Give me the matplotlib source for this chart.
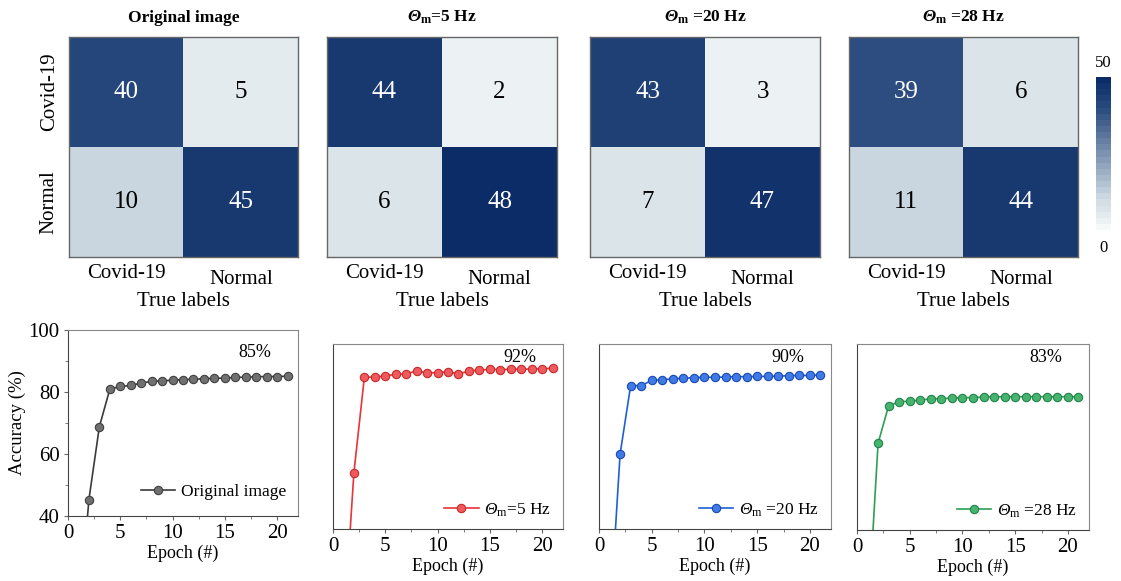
import numpy as np
import matplotlib
matplotlib.use("Agg")
import matplotlib.pyplot as plt
from matplotlib.colors import LinearSegmentedColormap
from matplotlib.ticker import MultipleLocator

plt.rcParams['font.family'] = ['Liberation Serif', 'DejaVu Serif']
plt.rcParams['mathtext.fontset'] = 'custom'
plt.rcParams['mathtext.rm'] = 'Liberation Serif'
plt.rcParams['mathtext.it'] = 'Liberation Serif:italic'
plt.rcParams['mathtext.sf'] = 'Liberation Serif:italic'
plt.rcParams['mathtext.bf'] = 'Liberation Serif:bold:italic'
plt.rcParams['mathtext.tt'] = 'Liberation Serif:bold'

# ---------------- data ----------------
class_labels = ["Covid-19", "Normal"]
cm_titles = ["Original image", r"$\mathbf{\Theta}_{\mathtt{m}}$=5 Hz",
             r"$\mathbf{\Theta}_{\mathtt{m}}$ =20 Hz", r"$\mathbf{\Theta}_{\mathtt{m}}$ =28 Hz"]
cm_original = [[40, 5], [10, 45]]
cm_5hz = [[44, 2], [6, 48]]
cm_20hz = [[43, 3], [7, 47]]
cm_28hz = [[39, 6], [11, 44]]

epochs = list(range(1, 22))
acc_original = [5, 45.3, 68.8, 80.9, 81.8, 82.1, 82.9, 83.4, 83.6, 83.8, 84.0, 84.1,
                84.3, 84.4, 84.5, 84.7, 84.8, 84.9, 85.0, 85.0, 85.1]
acc_5hz = [6, 58.3, 89.2, 89.3, 89.6, 90.2, 90.3, 91.3, 90.6, 90.7, 91.0, 90.3,
           91.2, 91.5, 91.8, 91.7, 91.8, 91.8, 91.9, 92.0, 92.1]
acc_20hz = [9, 64.3, 86.5, 86.5, 88.2, 88.4, 88.7, 88.9, 89.1, 89.2, 89.2, 89.3,
            89.4, 89.4, 89.5, 89.5, 89.6, 89.7, 89.8, 89.8, 90.0]
acc_28hz = [10, 68.0, 80.1, 81.3, 81.6, 81.9, 82.3, 82.4, 82.5, 82.7, 82.7, 82.9,
            82.9, 83.0, 83.0, 83.0, 83.0, 83.0, 83.0, 83.0, 83.0]
legend_labels = ["Original image", r"$\mathsf{\Theta}_{\mathrm{m}}$=5 Hz",
                 r"$\mathsf{\Theta}_{\mathrm{m}}$ =20 Hz", r"$\mathsf{\Theta}_{\mathrm{m}}$ =28 Hz"]
final_acc = ["85%", "92%", "90%", "83%"]

# ---------------- figure ----------------
W, H = 1121, 581
fig = plt.figure(figsize=(W / 100, H / 100), dpi=100)

def px_axes(x0, y0, x1, y1):
    return fig.add_axes([x0 / W, 1 - y1 / H, (x1 - x0) / W, (y1 - y0) / H])

cmap = LinearSegmentedColormap.from_list(
    "cmblue", [(0.0, '#f5f9f8'), (0.2, '#ccd8e1'), (0.8, '#2b4c7f'), (1.0, '#0b2c66')], N=25)

cm_boxes = [(69, 37, 298, 257), (327, 37, 557, 257), (590, 37, 820, 257), (849, 37, 1078, 257)]
cms = [cm_original, cm_5hz, cm_20hz, cm_28hz]
im = None
for i, (box, cm, title) in enumerate(zip(cm_boxes, cms, cm_titles)):
    ax = px_axes(*box)
    arr = np.array(cm)
    im = ax.imshow(arr, cmap=cmap, vmin=0, vmax=50, aspect='auto')
    for r in range(2):
        for c in range(2):
            v = arr[r, c]
            ax.text(c, r, str(v), ha='center', va='center', fontsize=18,
                    color='white' if v > 25 else 'black')
    ax.set_xticks([])
    ax.set_yticks([])
    for s in ax.spines.values():
        s.set_color('#666666')
        s.set_linewidth(1.0)
    ax.text(0, 1.5 + 0.06, class_labels[0], ha='center', va='top', fontsize=15)
    ax.text(1, 1.5 + 0.12, class_labels[1], ha='center', va='top', fontsize=15)
    ax.text(0.5, 1.5 + 0.32, "True labels", ha='center', va='top', fontsize=15)
    ax.set_title(title, fontsize=12.5, fontweight='bold', pad=11)
    if i == 0:
        ax.text(-0.5 - 0.09, 0, class_labels[0], rotation=90, ha='right', va='center', fontsize=15)
        ax.text(-0.5 - 0.09, 1, class_labels[1], rotation=90, ha='right', va='center', fontsize=15)

# colorbar
cax = px_axes(1096, 77, 1111, 230)
cb = fig.colorbar(im, cax=cax)
cb.set_ticks([])
cb.outline.set_visible(False)
fig.text(1103.5 / W, 1 - 63 / H, "50", ha='center', va='center', fontsize=12)
fig.text(1103.5 / W, 1 - 248 / H, "0", ha='center', va='center', fontsize=12)

# ---------------- accuracy curves ----------------
line_boxes = [(68, 330, 298, 516), (333, 344, 563, 529), (599, 344, 831, 529), (857, 344, 1089, 530)]
accs = [acc_original, acc_5hz, acc_20hz, acc_28hz]
line_colors = ['#3a3a3a', '#e8343a', '#1f5fd6', '#2e9e55']
face_colors = ['#707070', '#ee5a5e', '#3f7ae6', '#47b46e']
edge_colors = ['#404040', '#c82828', '#1a4ab0', '#23824a']
legend_y = [0.02, -0.01, -0.01, -0.01]
for i, (box, acc) in enumerate(zip(line_boxes, accs)):
    ax = px_axes(*box)
    ax.plot(epochs, acc, '-o', color=line_colors[i], lw=1.2, ms=6,
            mfc=face_colors[i], mec=edge_colors[i], mew=0.8, label=legend_labels[i])
    ax.set_xlim(0, 22)
    ax.set_ylim(40, 100)
    ax.xaxis.set_major_locator(MultipleLocator(5))
    ax.xaxis.set_minor_locator(MultipleLocator(2.5))
    ax.yaxis.set_major_locator(MultipleLocator(20))
    ax.yaxis.set_minor_locator(MultipleLocator(10))
    ax.tick_params(which='major', direction='out', length=3, labelsize=15, pad=3, color='#666666')
    ax.tick_params(which='minor', direction='out', length=2, color='#666666')
    for s in ax.spines.values():
        s.set_color('#888888')
    ax.spines['left'].set_color('#444444')
    ax.spines['bottom'].set_color('#444444')
    ax.set_xlabel("Epoch (#)", fontsize=13, labelpad=1)
    if i == 0:
        ax.set_ylabel("Accuracy (%)", fontsize=13.5, labelpad=2)
    else:
        ax.tick_params(axis='y', which='both', left=False, labelleft=False)
    ax.text(17.9, 95.5 if i else 92.7, final_acc[i], ha='center', va='center', fontsize=13)
    ax.legend(loc='lower right', frameon=False, fontsize=12.5, handlelength=2.0,
              handletextpad=0.3, bbox_to_anchor=(1.0, legend_y[i]), borderaxespad=0.3)

fig.savefig("out.png", dpi=100)
